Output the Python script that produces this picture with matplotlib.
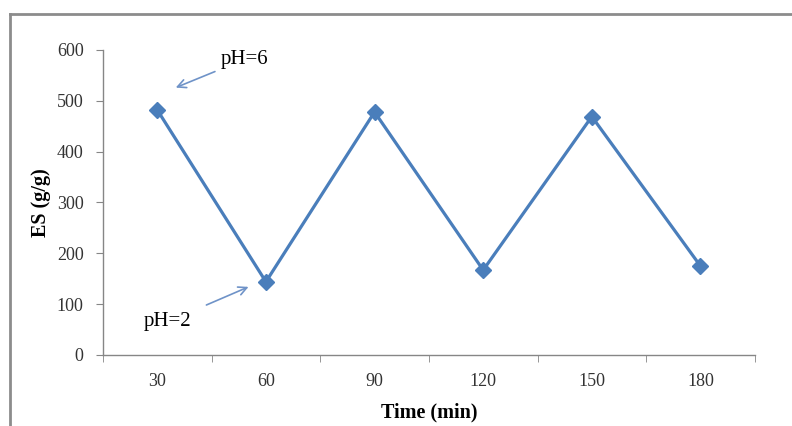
import matplotlib.pyplot as plt
from matplotlib.lines import Line2D
import numpy as np

times = ['30', '60', '90', '120', '150', '180']
es = [482, 144, 478, 167, 469, 175]

plt.rcParams['font.family'] = ['Liberation Serif', 'DejaVu Serif']

fig = plt.figure(figsize=(7.92, 4.26), dpi=100)
ax = fig.add_axes([0.130, 0.1667, 0.823, 0.716])

x = np.arange(len(times))
ax.plot(x, es, color='#4A7EBB', lw=2.3, marker='D', markersize=8.5,
        markerfacecolor='#4A7EBB', markeredgecolor='#4A7EBB')

ax.set_xlim(-0.5, len(times) - 0.5)
ax.set_ylim(0, 600)
ax.set_yticks(range(0, 601, 100))
ax.set_xticks(x)
ax.set_xticklabels(times)
ax.set_xticks(np.arange(-0.5, len(times), 1), minor=True)
ax.tick_params(axis='x', which='major', length=0, pad=13, labelsize=13, colors='#333333')
ax.tick_params(axis='x', which='minor', length=5, direction='out', color='#868686')
ax.tick_params(axis='y', length=5, direction='out', color='#868686', labelsize=13,
               labelcolor='#333333', pad=9)

for s in ['top', 'right']:
    ax.spines[s].set_visible(False)
for s in ['left', 'bottom']:
    ax.spines[s].set_color('#868686')
    ax.spines[s].set_linewidth(1)

ax.set_xlabel('Time (min)', fontweight='bold', fontsize=14.5, labelpad=9)
ax.set_ylabel('ES (g/g)', fontweight='bold', fontsize=14.5, labelpad=4)

arrow = dict(arrowstyle='->', color='#6F93C8', lw=1.2)
ax.annotate('pH=6', xy=(0.17, 526), xytext=(0.58, 581), fontsize=15,
            va='center', ha='left', arrowprops=dict(arrow, shrinkA=2, shrinkB=0),
            annotation_clip=False)
ax.annotate('pH=2', xy=(0.84, 134), xytext=(0.09, 65), fontsize=15,
            va='center', ha='center', arrowprops=dict(arrow, shrinkA=10, shrinkB=0),
            annotation_clip=False)

# outer chart frame (only top and left visible in the crop)
fig.add_artist(Line2D([10 / 792, 1.0], [1 - 14 / 426, 1 - 14 / 426],
                      transform=fig.transFigure, color='#8C8C8C', lw=2))
fig.add_artist(Line2D([10 / 792, 10 / 792], [0, 1 - 14 / 426],
                      transform=fig.transFigure, color='#8C8C8C', lw=2))

fig.savefig('out.png', dpi=100)
